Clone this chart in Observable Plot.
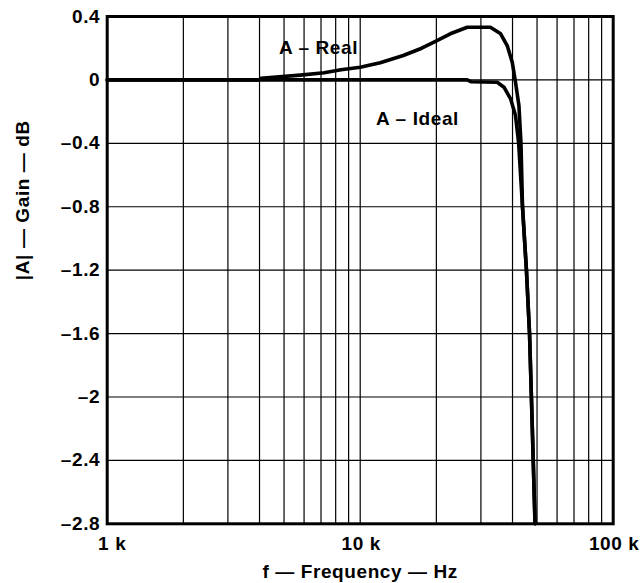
<!DOCTYPE html>
<html><head><meta charset="utf-8">
<script src="https://cdn.jsdelivr.net/npm/d3@7"></script>
<script src="https://cdn.jsdelivr.net/npm/@observablehq/plot@0.6"></script>
<style>body{margin:0;background:#fff}</style>
</head><body><div id="chart"></div>
<script>
const realFreq = [1000, 4000, 4050, 5800, 7200, 8400, 10000, 12000, 14800, 17500, 20200, 22700, 26500, 32700, 35900, 38100, 39900, 41100, 42400, 43200, 43800, 45400, 46700, 47500, 48300, 49100];
const realGain = [0, 0, 0.01, 0.03, 0.045, 0.064, 0.08, 0.108, 0.154, 0.2, 0.249, 0.291, 0.332, 0.332, 0.291, 0.217, 0.112, -0.015, -0.161, -0.4, -0.8, -1.2, -1.6, -2.0, -2.4, -2.8];
const idealFreq = [1000, 26500, 27500, 34800, 37000, 39300, 41100, 42300, 43800, 45400, 46700, 47500, 48300, 49100];
const idealGain = [0, 0, -0.012, -0.015, -0.046, -0.119, -0.225, -0.4, -0.8, -1.2, -1.6, -2.0, -2.4, -2.8];
const xTicks = [1000, 10000, 100000];
const xTickLabels = ["1 k", "10 k", "100 k"];
const xGrid = [2000, 3000, 4000, 5000, 6000, 7000, 8000, 9000, 10000, 20000, 30000, 40000, 50000, 60000, 70000, 80000, 90000];
const yTicks = [0.4, 0, -0.4, -0.8, -1.2, -1.6, -2, -2.4, -2.8];
const yTickLabels = ["0.4", "0", "–0.4", "–0.8", "–1.2", "–1.6", "–2", "–2.4", "–2.8"];
const curveLabels = ["A – Real", "A – Ideal"];
const curveLabelFreq = [6840, 16850];
const curveLabelGain = [0.204, -0.244];
const xTitle = "f — Frequency — Hz";
const yTitle = "|A| — Gain — dB";

const real = realFreq.map((f, i) => ({f, g: realGain[i]}));
const ideal = idealFreq.map((f, i) => ({f, g: idealGain[i]}));
const labels = curveLabels.map((t, i) => ({t, f: curveLabelFreq[i], g: curveLabelGain[i]}));
const xt = xTicks.map((v, i) => ({v, t: xTickLabels[i]}));

const chart = Plot.plot({
  width: 643, height: 583,
  marginLeft: 106.7, marginRight: 30.3, marginTop: 16, marginBottom: 59.7,
  style: {fontFamily: "'Liberation Sans', Arial, sans-serif", fontWeight: "bold", fontSize: "19px", letterSpacing: "0.6px", color: "black", background: "white"},
  x: {type: "log", domain: [1000, 100000], axis: null},
  y: {domain: [-2.8, 0.4], axis: null},
  marks: [
    Plot.gridX(xGrid, {stroke: "black", strokeOpacity: 1, strokeWidth: 1.2}),
    Plot.gridY(yTicks, {stroke: "black", strokeOpacity: 1, strokeWidth: 1.2}),
    Plot.line(ideal, {x: "f", y: "g", stroke: "black", strokeWidth: 3.6, curve: "linear"}),
    Plot.line(real, {x: "f", y: "g", stroke: "black", strokeWidth: 3.6, curve: "linear"}),
    Plot.frame({stroke: "black", strokeWidth: 3}),
    Plot.text(xt.slice(0, 1), {x: "v", text: "t", frameAnchor: "bottom", dy: 20, dx: 5, lineAnchor: "middle"}),
    Plot.text(xt.slice(1), {x: "v", text: "t", frameAnchor: "bottom", dy: 20, dx: 1, lineAnchor: "middle"}),
    Plot.text(yTicks, {y: d => d, text: (d, i) => yTickLabels[i], frameAnchor: "left", textAnchor: "end", dx: -7, lineAnchor: "middle"}),
    Plot.text([xTitle], {text: d => d, frameAnchor: "bottom", dy: 48, lineAnchor: "middle"}),
    Plot.text([yTitle], {text: d => d, frameAnchor: "left", rotate: -90, dx: -84, dy: 10, lineAnchor: "middle"}),
    Plot.text(labels, {x: "f", y: "g", text: "t", lineAnchor: "middle", ariaLabel: "curve-labels"})
  ]
});
document.getElementById("chart").appendChild(chart);

// white boxes behind curve labels
d3.select(chart).selectAll('g[aria-label="curve-labels"] text').each(function() {
  const b = this.getBBox();
  const padX = 15, padY = 8;
  d3.select(this.parentNode).insert("rect", () => this)
    .attr("x", b.x - padX).attr("y", b.y - padY + 1)
    .attr("width", b.width + 2 * padX).attr("height", b.height + 2 * padY - 2)
    .attr("fill", "white").attr("stroke", "none")
    .attr("transform", this.getAttribute("transform"));
});
</script>
</body></html>
